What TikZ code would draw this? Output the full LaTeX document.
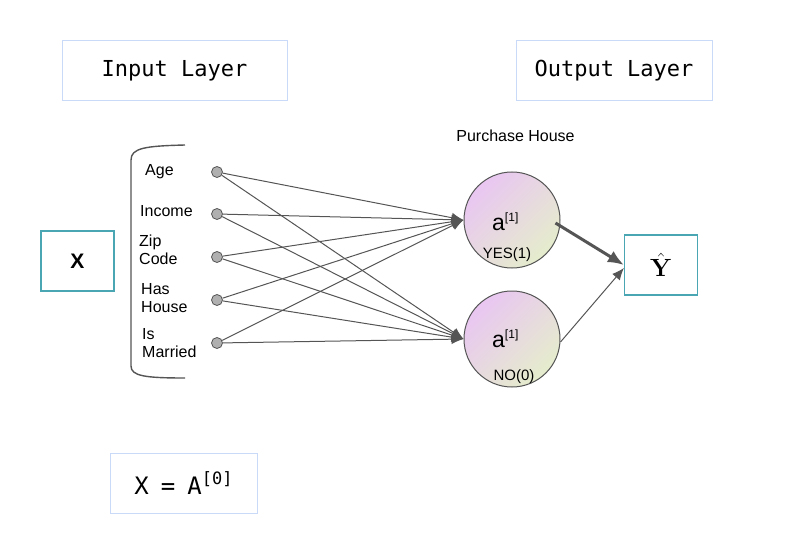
\documentclass[tikz,border=0pt]{standalone}
\usepackage[no-math]{fontspec}
\setmainfont{Liberation Sans}
\newfontfamily\codefont{DejaVu Sans Mono}
\usepackage{amsmath,amssymb}
\usepackage{xcolor}
\usetikzlibrary{arrows.meta}
\definecolor{paleblue}{HTML}{C9DAF8}
\definecolor{teal2}{HTML}{4BA6B3}
\definecolor{edge}{HTML}{555555}
\definecolor{dotgray}{HTML}{B0B0B0}
\definecolor{pink2}{HTML}{E9C6F2}
\definecolor{sage2}{HTML}{E5EDCC}

\begin{document}
\begin{tikzpicture}[x=1pt,y=-1pt,
          every node/.style={font=\fontsize{16}{18}\selectfont},
          titlebox/.style={draw=paleblue,line width=1pt,minimum height=60pt,
                           font=\codefont\fontsize{22}{24}\selectfont},
          varbox/.style={draw=teal2,line width=1.2pt,minimum width=73pt,
                         minimum height=60pt},
          feat/.style={anchor=west,align=left,inner sep=0pt},
          dot/.style={circle,draw=edge,fill=dotgray,line width=0.8pt,
                      minimum size=11pt,inner sep=0pt},
          neuron/.style={circle,draw=edge,line width=1pt,minimum size=96pt,
                         top color=pink2,bottom color=sage2,shading angle=45},
          arr/.style={-{Latex[length=12pt,width=10pt]},draw=edge,line width=1pt},
          bracket/.style={draw=edge,line width=1.4pt},
      ]
        \useasboundingbox (0,0) rectangle (792,556);

        \node[titlebox,minimum width=225pt] (inlayer) at (174.5,71) {Input Layer};
        \node[titlebox,minimum width=196pt] (outlayer) at (614,71) {Output Layer};
        \node[titlebox,minimum width=147pt,font=\codefont\fontsize{24}{24}\selectfont] (aeq) at (183.5,483)
          {X\hspace{12pt}=\hspace{12pt}A\raisebox{10pt}{\fontsize{17}{17}\selectfont[0]}};

        \node[varbox,font=\fontsize{21}{21}\selectfont] (xbox) at (77.5,261) {\textbf{X}};
        \node[varbox,font=\fontsize{24}{24}\selectfont] (yhat) at (661,265) {$\hat{\mathbf{Y}}$};

        % brace round the features
        \draw[bracket] (185,145) .. controls (145,146) and (131,148) .. (131,160)
          -- (131,366) .. controls (131,376) and (145,378) .. (185,378);

        \node[feat] (age) at (145,172) {Age};
        \node[feat] (income) at (140,211) {Income};
        \node[feat] (zip) at (139,250) {Zip\\Code};
        \node[feat] (house) at (141,298) {Has\\House};
        \node[feat] (married) at (142,343) {Is\\Married};

        \node[dot] (in1) at (217,172) {};
        \node[dot] (in2) at (217,214) {};
        \node[dot] (in3) at (217,257) {};
        \node[dot] (in4) at (217,300) {};
        \node[dot] (in5) at (217,343) {};

        \node (title) at (515.5,136) {Purchase House};
        \node[neuron] (h1) at (512,220) {};
        \node[neuron] (h2) at (512,339) {};
        \node[anchor=base west,inner sep=0pt,font=\fontsize{23}{23}\selectfont] (h1a) at (492,230)
          {a\raisebox{9pt}{\fontsize{12}{12}\selectfont[1]}};
        \node[font=\fontsize{15}{15}\selectfont] (h1b) at (507,255) {YES(1)};
        \node[anchor=base west,inner sep=0pt,font=\fontsize{23}{23}\selectfont] (h2a) at (492,347)
          {a\raisebox{9pt}{\fontsize{12}{12}\selectfont[1]}};
        \node[font=\fontsize{15}{15}\selectfont] (h2b) at (514,377) {NO(0)};

        \draw[arr] (in1) -- (h1.west);
        \draw[arr] (in1) -- (h2.west);
        \draw[arr] (in2) -- (h1.west);
        \draw[arr] (in2) -- (h2.west);
        \draw[arr] (in3) -- (h1.west);
        \draw[arr] (in3) -- (h2.west);
        \draw[arr] (in4) -- (h1.west);
        \draw[arr] (in4) -- (h2.west);
        \draw[arr] (in5) -- (h1.west);
        \draw[arr] (in5) -- (h2.west);

        \draw[arr,line width=3pt,-{Latex[length=16pt,width=13pt]}]
          ([shift={(-5,3)}]h1.east) -- (yhat.west);
        \draw[arr] ([shift={(0,3)}]h2.east) -- ([shift={(0,3)}]yhat.west);
      \end{tikzpicture}
\end{document}
